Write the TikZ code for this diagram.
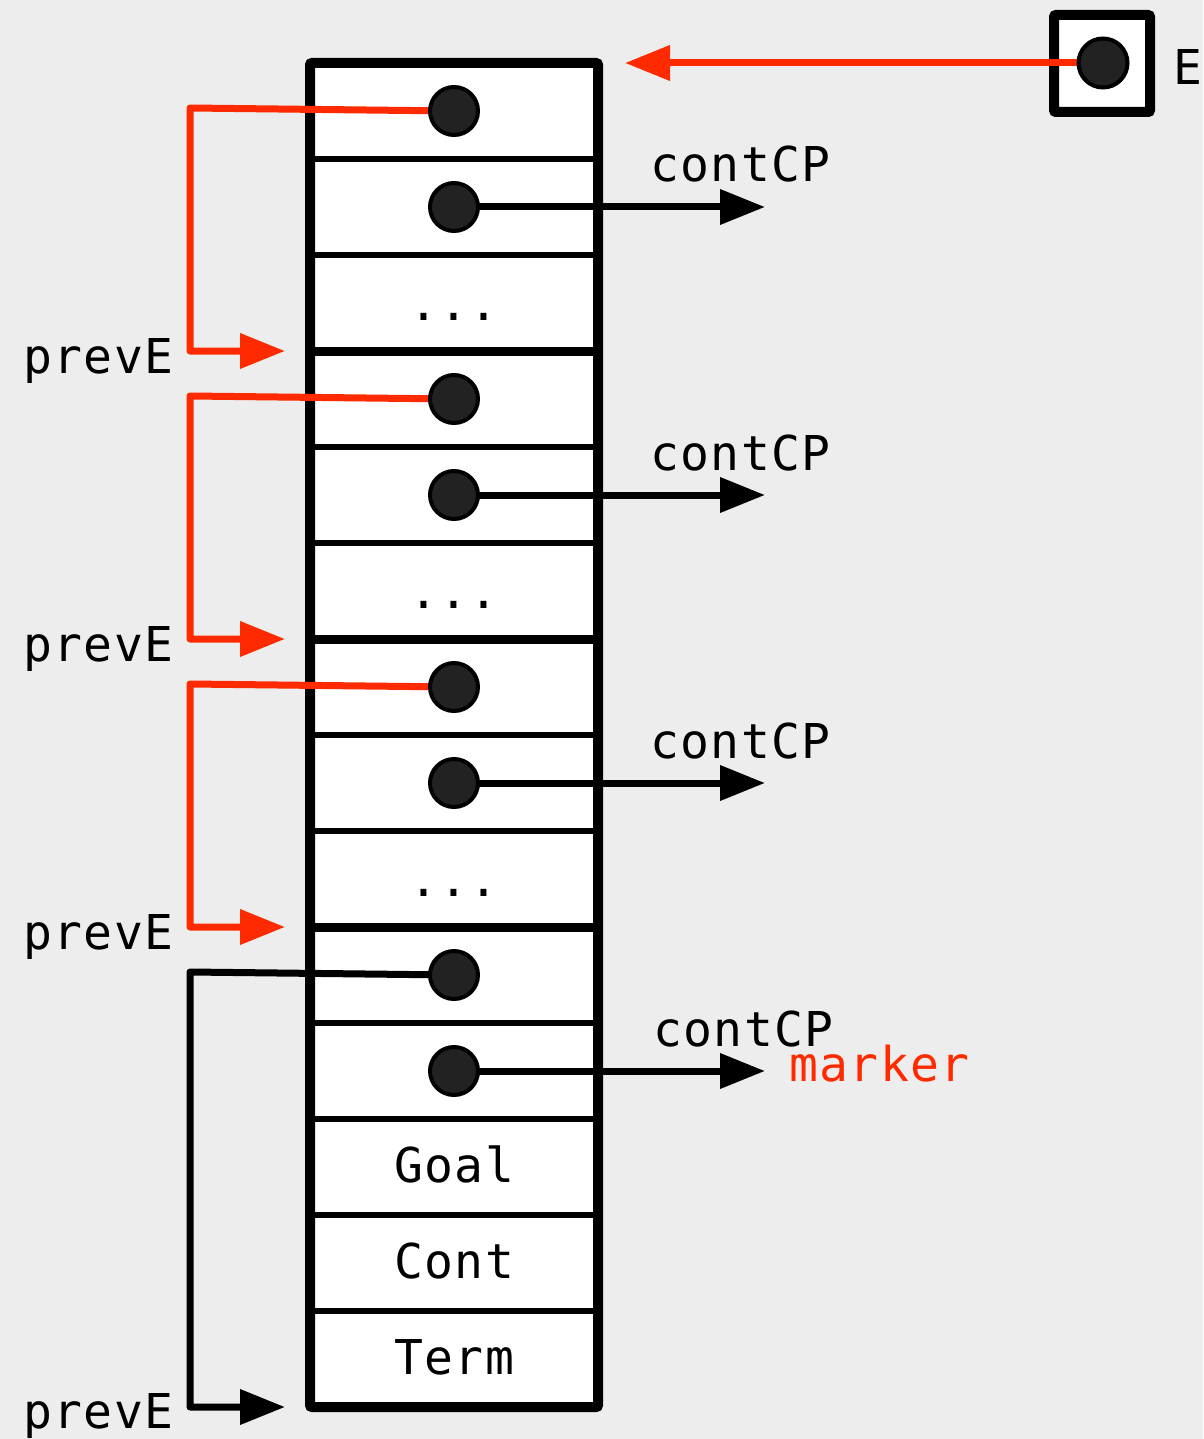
\documentclass[tikz,border=0pt]{standalone}
\usepackage{fontspec}
\newfontfamily\codefont{DejaVu Sans Mono}[LetterSpace=3]
\usetikzlibrary{arrows.meta}
\definecolor{bgc}{HTML}{EDEDED}
\definecolor{ptrred}{HTML}{FF2A00}
\definecolor{dotfill}{HTML}{222222}
\pgfdeclarelayer{fg}
\pgfsetlayers{main,fg}

\begin{document}
\begin{tikzpicture}[x=1pt,y=-1pt,
  cell/.style={fill=white, minimum width=288pt, minimum height=96pt, inner sep=0pt, outer sep=0pt},
  dot/.style={circle, fill=dotfill, draw=black, line width=4pt, minimum size=48pt, inner sep=0pt},
  lbl/.style={font=\fontsize{48}{58}\selectfont\codefont, inner sep=0pt},
  thindiv/.style={line width=5.5pt},
  thickdiv/.style={line width=9pt},
  border/.style={line width=10pt, rounded corners=2pt},
  ptr/.style={line width=7pt, line join=round, line cap=round, -{Triangle[length=45pt,width=34pt]}},
]
% canvas
\fill[bgc] (0,0) rectangle (1203,1439);
\useasboundingbox (0,0) rectangle (1203,1439);

% the stack column
\foreach \i in {1,...,14} \node[cell] (r\i) at (454,15+96*\i) {};
\foreach \i in {1,2,4,5,7,8,10,11,12,13}
  \draw[thindiv] (r\i.south west) -- (r\i.south east);
\foreach \i in {3,6,9}
  \draw[thickdiv] (r\i.south west) -- (r\i.south east);
\draw[border] (r1.north west) rectangle (r14.south east);

% cell contents
\node[lbl, anchor=base] (d3) at (454,320) {...};
\node[lbl, anchor=base] (d6) at (454,608) {...};
\node[lbl, anchor=base] (d9) at (454,896) {...};
\node[lbl, anchor=base] (goal) at (454,1182) {Goal};
\node[lbl, anchor=base] (cont) at (454,1278) {Cont};
\node[lbl, anchor=base] (term) at (454,1374) {Term};

% register E
\node[draw, fill=white, line width=10pt, rounded corners=2pt, minimum width=96pt, minimum height=97pt, inner sep=0pt] (ebox) at (1102,63.5) {};
\node[lbl, anchor=base west] (elbl) at (1173,85) {E};

% pointer cells (drawn on top of the connectors)
\begin{pgfonlayer}{fg}
  \foreach \i in {1,2,4,5,7,8,10,11} \node[dot] (c\i) at (r\i) {};
  \node[dot, minimum size=49pt] (ec) at (1103,63) {};
\end{pgfonlayer}

% arrow targets
\coordinate (etip) at (625,63);
\coordinate (k2) at (765,207);
\coordinate (k5) at (765,495);
\coordinate (k8) at (765,783);
\coordinate (k11) at (765,1071);
\coordinate (p1) at (285,351);
\coordinate (p4) at (285,639);
\coordinate (p7) at (285,927);
\coordinate (p10) at (285,1407);

% E points at the top frame
\draw[ptr, ptrred] (ec.center) -- (etip);

% continuation pointers
\foreach \i in {2,5,8,11} \draw[ptr, black] (c\i.center) -- (k\i);

% previous-frame links
\draw[ptr, ptrred] (c1.center) -- (190,108) |- (p1);
\draw[ptr, ptrred] (c4.center) -- (190,396) |- (p4);
\draw[ptr, ptrred] (c7.center) -- (190,684) |- (p7);
\draw[ptr, black] (c10.center) -- (190,972) |- (p10);

% labels
\node[lbl, anchor=base west] (cp2) at (650,182) {contCP};
\node[lbl, anchor=base west] (cp5) at (650,470) {contCP};
\node[lbl, anchor=base west] (cp8) at (650,758) {contCP};
\node[lbl, anchor=base west] (cp11) at (653,1046) {contCP};
\node[lbl, anchor=base west, text=ptrred] (mk) at (789,1081) {marker};
\node[lbl, anchor=base west] (pe1) at (23,373) {prevE};
\node[lbl, anchor=base west] (pe4) at (23,661) {prevE};
\node[lbl, anchor=base west] (pe7) at (23,949) {prevE};
\node[lbl, anchor=base west] (pe10) at (23,1428) {prevE};
\end{tikzpicture}
\end{document}
